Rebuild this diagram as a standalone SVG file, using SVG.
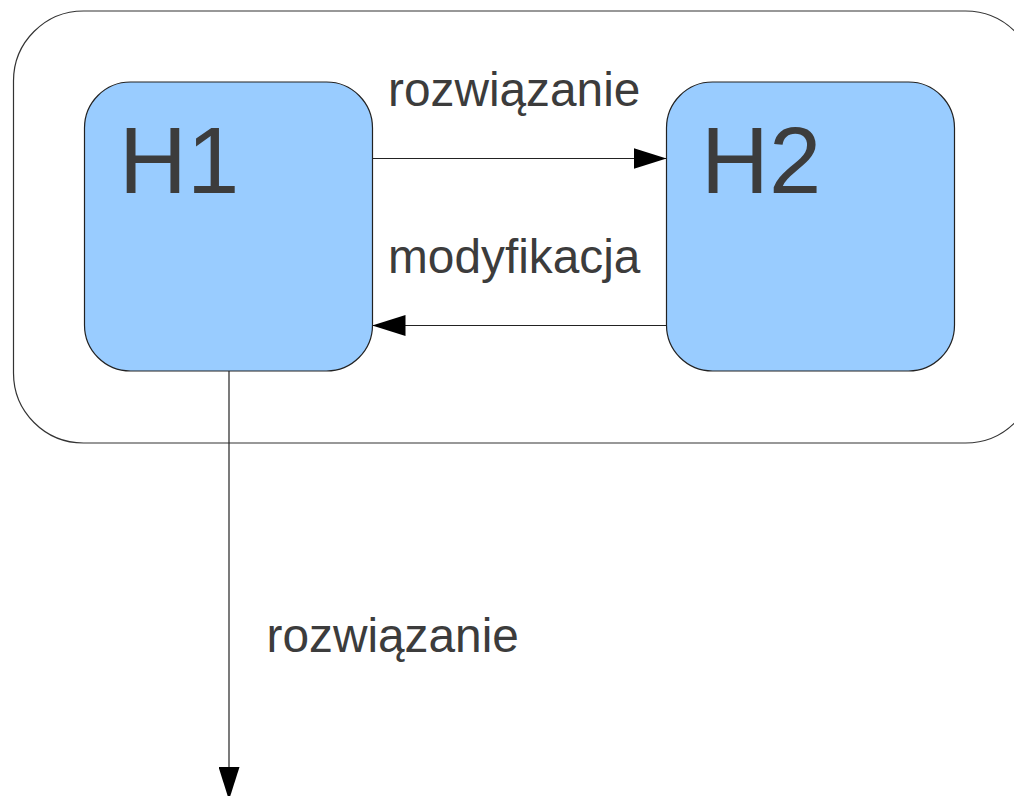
<svg xmlns="http://www.w3.org/2000/svg" width="1014" height="796" viewBox="0 0 1014 796">
  <defs>
    <style>
      .frame { fill: #ffffff; stroke: #333333; stroke-width: 1.2; }
      .state { fill: #99ccff; stroke: #222222; stroke-width: 1.2; }
      .conn { fill: none; stroke: #222222; stroke-width: 1.2; }
      .title { font-family: "Liberation Sans", Arial, sans-serif; font-size: 94px; fill: #3c3c3c; }
      .label { font-family: "Liberation Sans", Arial, sans-serif; font-size: 47.8px; fill: #3c3c3c; }
    </style>
    <marker id="arrow" viewBox="0 0 33 21" refX="33" refY="10.5" markerWidth="33" markerHeight="21" markerUnits="userSpaceOnUse" orient="auto">
      <path d="M0,0 L33,10.5 L0,21 Z" fill="#000000"/>
    </marker>
  </defs>

  <rect width="1014" height="796" fill="#ffffff"/>

  <!-- enclosing composite state -->
  <g id="container">
    <rect class="frame" x="13.5" y="11" width="1022" height="432" rx="70" ry="70"/>
  </g>

  <g id="H1">
    <rect class="state" x="84.5" y="82" width="288" height="289" rx="46" ry="46"/>
    <text class="title" x="119" y="193">H1</text>
  </g>

  <g id="H2">
    <rect class="state" x="666.5" y="82" width="288" height="289" rx="46" ry="46"/>
    <text class="title" x="701" y="193">H2</text>
  </g>

  <g id="connectors">
    <line class="conn" x1="372.5" y1="158.5" x2="666.5" y2="158.5" marker-end="url(#arrow)"/>
    <line class="conn" x1="666.5" y1="325.5" x2="372.5" y2="325.5" marker-end="url(#arrow)"/>
    <line class="conn" x1="229" y1="371" x2="229" y2="800" marker-end="url(#arrow)"/>
  </g>

  <g id="labels">
    <text class="label" x="388" y="106">rozwiązanie</text>
    <text class="label" x="388" y="273">modyfikacja</text>
    <text class="label" x="266.5" y="652">rozwiązanie</text>
  </g>
</svg>
